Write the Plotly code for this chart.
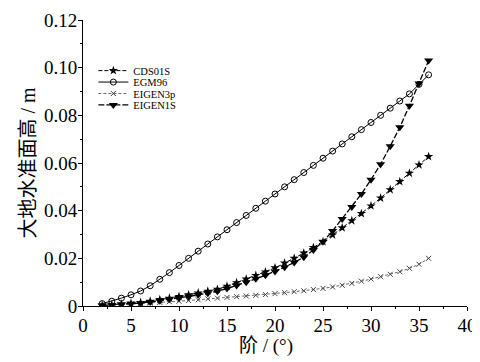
import plotly.graph_objects as go

degree = list(range(2, 37))

cds01s = [0.0003, 0.0005, 0.0008, 0.0011, 0.0015, 0.0020, 0.0027, 0.0033, 0.0040, 0.0047,
          0.0055, 0.0062, 0.0070, 0.0083, 0.0098, 0.0113, 0.0128, 0.0143, 0.0160, 0.0180,
          0.0200, 0.0222, 0.0245, 0.0270, 0.0298, 0.0328, 0.0358, 0.0388, 0.0420, 0.0453,
          0.0488, 0.0522, 0.0557, 0.0592, 0.0627]

egm96 = [0.0010, 0.0020, 0.0033, 0.0047, 0.0063, 0.0085, 0.0112, 0.0140, 0.0170, 0.0200,
         0.0230, 0.0260, 0.0290, 0.0320, 0.0350, 0.0380, 0.0410, 0.0440, 0.0470, 0.0500,
         0.0530, 0.0560, 0.0590, 0.0620, 0.0650, 0.0680, 0.0710, 0.0740, 0.0770, 0.0800,
         0.0830, 0.0860, 0.0890, 0.0930, 0.0970]

eigen3p = [0.0002, 0.0004, 0.0006, 0.0008, 0.0010, 0.0012, 0.0015, 0.0018, 0.0020, 0.0023,
           0.0026, 0.0030, 0.0033, 0.0036, 0.0039, 0.0042, 0.0045, 0.0048, 0.0052, 0.0056,
           0.0060, 0.0064, 0.0069, 0.0074, 0.0080, 0.0087, 0.0095, 0.0104, 0.0113, 0.0123,
           0.0133, 0.0144, 0.0158, 0.0175, 0.0200]

eigen1s = [0.0002, 0.0004, 0.0006, 0.0009, 0.0012, 0.0017, 0.0022, 0.0028, 0.0034, 0.0040,
           0.0047, 0.0054, 0.0062, 0.0073, 0.0086, 0.0100, 0.0114, 0.0129, 0.0145, 0.0163,
           0.0183, 0.0205, 0.0235, 0.0270, 0.0315, 0.0365, 0.0415, 0.0470, 0.0530, 0.0595,
           0.0670, 0.0750, 0.0840, 0.0934, 0.1030]

x_ticks = [0, 5, 10, 15, 20, 25, 30, 35, 40]
y_ticks = [0, 0.02, 0.04, 0.06, 0.08, 0.10, 0.12]
y_tick_text = ["0", "0.02", "0.04", "0.06", "0.08", "0.10", "0.12"]

x_title = "阶 / (°)"
y_title = "大地水准面高 / m"

serif = "Liberation Serif, Noto Sans CJK SC, serif"

series = [
    ("CDS01S", cds01s, dict(color="black", width=1, dash="4px,2px"),
     dict(symbol="star", size=7, color="black")),
    ("EGM96", egm96, dict(color="black", width=1),
     dict(symbol="circle-open", size=6, color="black", line=dict(width=1))),
    ("EIGEN3p", eigen3p, dict(color="#444", width=0.8, dash="3px,2px"),
     dict(symbol="x-thin-open", size=5, color="#444", line=dict(width=1))),
    ("EIGEN1S", eigen1s, dict(color="black", width=1.3, dash="6px,2px"),
     dict(symbol="triangle-down", size=8, color="black")),
]

fig = go.Figure()
legend_y = [0.823, 0.783, 0.743, 0.703]
layout_legends = {}
for i, (name, vals, ln, mk) in enumerate(series):
    key = "legend" if i == 0 else f"legend{i+1}"
    fig.add_trace(go.Scatter(x=degree, y=vals, name=name, mode="lines+markers",
                             line=ln, marker=mk, legend=key))
    layout_legends[key] = dict(x=0.027, y=legend_y[i], xanchor="left", yanchor="middle",
                               font=dict(family=serif, size=10.5), bgcolor="rgba(0,0,0,0)",
                               itemwidth=30, borderwidth=0)

# page body has an 8px margin: size the figure so the plot area lands where the reference has it
fig.update_layout(
    width=472, height=354,
    margin=dict(l=75, r=13, t=12, b=56),
    paper_bgcolor="white", plot_bgcolor="white",
    font=dict(family=serif, color="black", size=19),
    showlegend=True,
    annotations=[dict(text=x_title, xref="paper", yref="paper", x=0.477, y=-0.14,
                      xanchor="center", yanchor="middle", showarrow=False,
                      font=dict(family=serif, size=19))],
    **layout_legends,
)
fig.update_xaxes(range=[0, 40], tickvals=x_ticks, ticktext=[str(v) for v in x_ticks],
                 showline=True, linecolor="black", linewidth=1, showgrid=False, zeroline=False,
                 ticks="outside", ticklen=4, tickcolor="black", automargin=False,
                 ticklabeloverflow="allow", ticklabelstandoff=-2,
                 minor=dict(ticks="outside", ticklen=2, dtick=2.5, tickcolor="black"))
fig.update_yaxes(range=[0, 0.12], tickvals=y_ticks, ticktext=y_tick_text,
                 showline=True, linecolor="black", linewidth=1, showgrid=False, zeroline=False,
                 ticks="outside", ticklen=4, tickcolor="black", automargin=False,
                 ticklabeloverflow="allow", ticklabelstandoff=-3,
                 minor=dict(ticks="outside", ticklen=2, dtick=0.01, tickcolor="black"),
                 title=dict(text=y_title, font=dict(size=20), standoff=2))

fig.write_html("out.html")
